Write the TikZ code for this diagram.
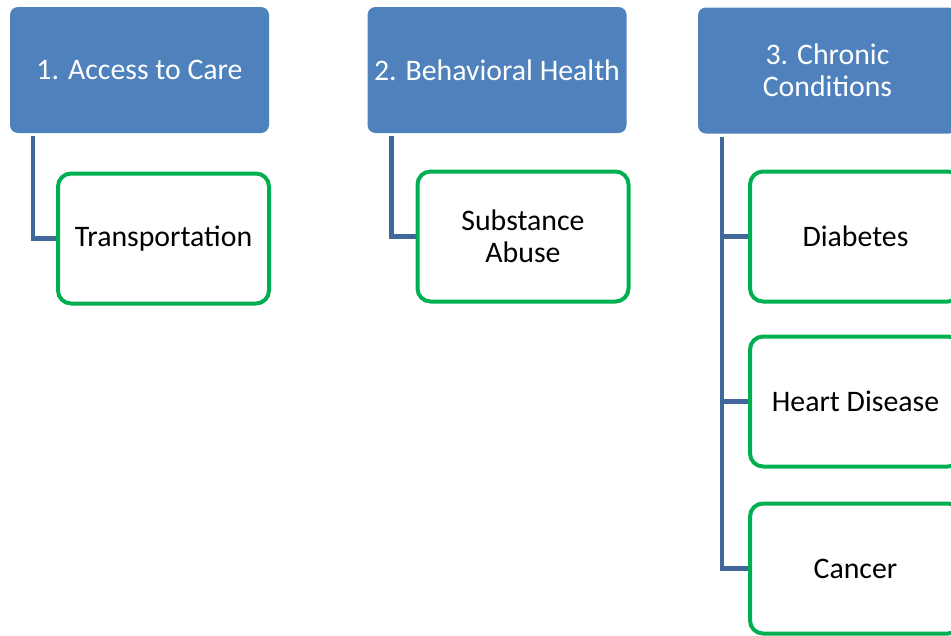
\documentclass[tikz,border=0pt]{standalone}
\usepackage{fontspec}
\setmainfont{Carlito}
\definecolor{boxblue}{HTML}{4F81BD}
\definecolor{linkblue}{HTML}{41689A}
\definecolor{boxgreen}{HTML}{00B050}
\begin{document}
\begin{tikzpicture}[x=1pt,y=-1pt,
  topbox/.style={fill=boxblue, draw=none, rounded corners=8pt, minimum width=259pt, minimum height=126pt,
    text=white, align=center, inner sep=0pt, font=\fontsize{29.8}{32}\selectfont},
  subbox/.style={draw=boxgreen, fill=white, line width=4pt, rounded corners=13pt, minimum width=211pt, minimum height=130pt,
    text=black, align=center, inner sep=0pt, font=\fontsize{29.8}{32}\selectfont},
  link/.style={draw=linkblue, line width=4.5pt}]
\useasboundingbox (0,0) rectangle (951,635);
\clip (0,0) rectangle (951,635);
\node[topbox] (b1) at (139.5,70) {1. Access to Care};
\node[topbox] (b2) at (497,70) {2. Behavioral Health};
\node[topbox] (b3) at (827.5,70.5) {3. Chronic\\Conditions};
\node[subbox] (g1) at (163.5,238.5) {Transportation};
\node[subbox] (g2) at (523,236.5) {Substance\\Abuse};
\node[subbox] (g3a) at (855.5,236.5) {Diabetes};
\node[subbox] (g3b) at (855.5,401.5) {Heart Disease};
\node[subbox] (g3c) at (855.5,568.5) {Cancer};
\draw[link] ([xshift=23pt,yshift=-3pt]b1.south west) |- (g1.west);
\draw[link] ([xshift=24pt,yshift=-3pt]b2.south west) |- (g2.west);
\draw[link] ([xshift=24pt,yshift=-3pt]b3.south west) |- (g3a.west);
\draw[link] ([xshift=24pt,yshift=-3pt]b3.south west) |- (g3b.west);
\draw[link] ([xshift=24pt,yshift=-3pt]b3.south west) |- (g3c.west);
\end{tikzpicture}
\end{document}
